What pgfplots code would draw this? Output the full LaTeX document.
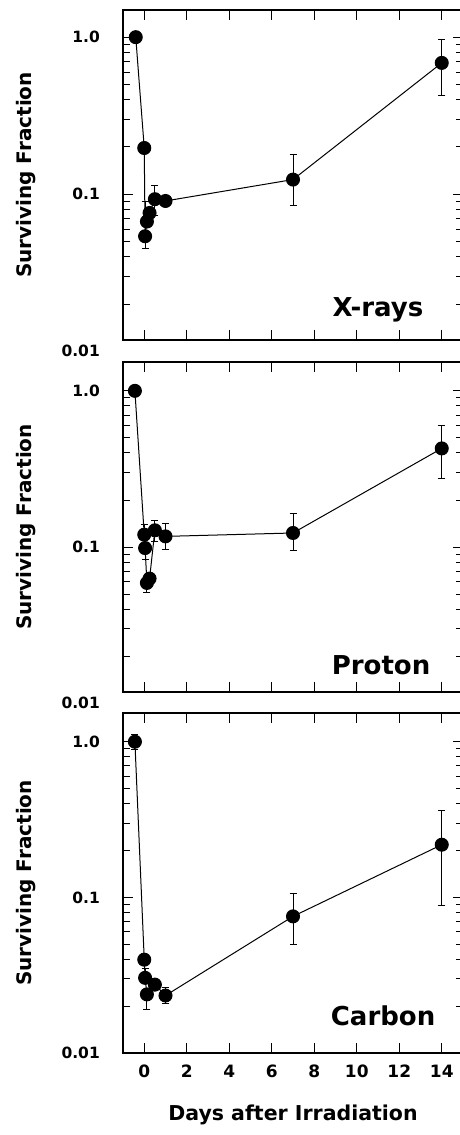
\documentclass[border=0pt]{standalone}
\usepackage{fontspec}
\setmainfont{DejaVu Sans}
\usepackage{pgfplots}
\pgfplotsset{compat=1.18}
\usepackage{pgfplotstable}

% x = days, y = surviving fraction, ep/em = error plus/minus
\pgfplotstableread{
x     y       ep      em
-0.4  1.00    0       0
0     0.197   0       0
0.04  0.054   0.036   0.009
0.125 0.067   0       0
0.25  0.076   0       0
0.5   0.093   0.021   0.020
1     0.0906  0       0
7     0.124   0.055   0.039
14    0.686   0.28    0.263
}\xrays

\pgfplotstableread{
x     y       ep      em
-0.44 1.00    0       0
0     0.120   0.020   0.020
0.04  0.0985  0.015   0.015
0.125 0.0589  0       0.008
0.25  0.0628  0       0
0.5   0.128   0.020   0.020
1     0.117   0.025   0.021
7     0.123   0.042   0.028
14    0.428   0.176   0.152
}\proton

\pgfplotstableread{
x     y       ep      em
-0.44 1.00    0.12    0.115
0     0.0398  0       0
0.04  0.0304  0.0043  0
0.125 0.0238  0       0.0048
0.5   0.0275  0       0
1     0.0234  0.0031  0.0026
7     0.0755  0.030   0.026
14    0.218   0.142   0.129
}\carbon

\pgfplotsset{
  scale only axis, width=340pt,
  xmin=-1, xmax=15,
  xtick={0,2,...,14},
  tick align=inside, major tick length=10pt, minor tick length=7pt,
  tick style={black, line width=1pt},
  axis line style={line width=1.3pt},
  yticklabel style={font=\fontsize{15.5}{15.5}\selectfont\bfseries, anchor=east, inner sep=0pt, xshift=-23pt},
  xticklabel style={font=\fontsize{17}{17}\selectfont\bfseries, anchor=north, inner sep=0pt, yshift=-12pt},
  ylabel style={at={(rel axis cs:0,0.5)}, anchor=base, yshift=91pt,
    font=\fontsize{20}{20}\selectfont\bfseries},
  xlabel style={at={(rel axis cs:0.5,0)}, anchor=base, yshift=-67pt,
    font=\fontsize{20.5}{20.5}\selectfont\bfseries},
  clip=false,
}
\tikzset{mylbl/.style={font=\fontsize{26}{26}\selectfont\bfseries, anchor=base},
  tlbl/.style={font=\fontsize{15.5}{15.5}\selectfont\bfseries, anchor=east, inner sep=0pt, xshift=-23pt}}

\newcommand{\panelplot}[1]{%
  \addplot[black, line width=1pt, mark=*, mark size=6.5pt, mark options={solid, fill=black},
    error bars/.cd, y dir=both, y explicit,
    error mark options={rotate=90, mark size=3.5pt, line width=1pt, black},
    error bar style={line width=1pt, black}]
    table[x=x, y=y, y error plus=ep, y error minus=em] {#1};}

\begin{document}
\begin{tikzpicture}
% X-rays
\begin{axis}[ymode=log, at={(123pt,795pt)}, anchor=south west,
  height=330pt, ymin=0.0118, ymax=1.49, xticklabels={},
  ytick={0.1,1}, yticklabels={0.1,1.0},
  minor ytick={0.02,0.03,0.04,0.05,0.06,0.07,0.08,0.09,0.2,0.3,0.4,0.5,0.6,0.7,0.8,0.9},
  ylabel={Surviving Fraction}]
  \panelplot{\xrays}
  \node[mylbl] at (rel axis cs:0.75,0.07) {X-rays};
  \node[tlbl] at (axis cs:-1,0.01) {0.01};
\end{axis}
% Proton
\begin{axis}[ymode=log, at={(123pt,443pt)}, anchor=south west,
  height=330pt, ymin=0.0118, ymax=1.53, xticklabels={},
  ytick={0.1,1}, yticklabels={0.1,1.0},
  minor ytick={0.02,0.03,0.04,0.05,0.06,0.07,0.08,0.09,0.2,0.3,0.4,0.5,0.6,0.7,0.8,0.9},
  ylabel={Surviving Fraction}]
  \panelplot{\proton}
  \node[mylbl] at (rel axis cs:0.759,0.052) {Proton};
  \node[tlbl] at (axis cs:-1,0.01) {0.01};
\end{axis}
% Carbon
\begin{axis}[ymode=log, at={(123pt,82pt)}, anchor=south west,
  height=340pt, ymin=0.01, ymax=1.53,
  ytick={0.01,0.1,1}, yticklabels={0.01,0.1,1.0},
  minor ytick={0.02,0.03,0.04,0.05,0.06,0.07,0.08,0.09,0.2,0.3,0.4,0.5,0.6,0.7,0.8,0.9},
  xticklabels={0,2,4,6,8,10,12,14},
  ylabel={Surviving Fraction},
  xlabel={Days after Irradiation}]
  \panelplot{\carbon}
  \node[mylbl] at (rel axis cs:0.765,0.082) {Carbon};
\end{axis}
\pgfresetboundingbox
\path[use as bounding box] (0pt,0pt) rectangle (459pt,1135pt);
\end{tikzpicture}
\end{document}
